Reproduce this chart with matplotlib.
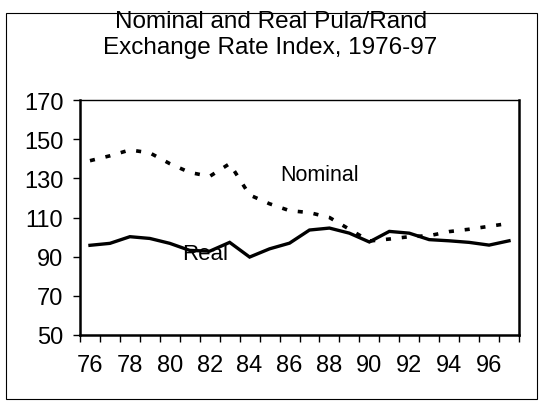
import numpy as np
import matplotlib.pyplot as plt
from matplotlib.patches import Rectangle

plt.rcParams["font.family"] = ["Liberation Sans", "DejaVu Sans"]

# Data
years = list(range(1976, 1998))
nominal = [139.0, 141.5, 144.5, 143.0, 137.5, 133.0, 131.0, 137.5, 121.5, 117.0, 113.5,
           112.5, 110.0, 104.0, 98.0, 99.0, 100.2, 100.7, 102.8, 104.0, 105.5, 107.0]
real = [95.8, 96.8, 100.2, 99.3, 96.8, 93.2, 92.8, 97.3, 89.8, 94.0, 96.9,
        103.6, 104.6, 102.0, 97.5, 102.9, 102.0, 98.7, 98.1, 97.3, 95.9, 98.1]
tick_labels = ["76", "78", "80", "82", "84", "86", "88", "90", "92", "94", "96"]
y_ticks = [50, 70, 90, 110, 130, 150, 170]

W, H = 539, 402
fig = plt.figure(figsize=(W / 100, H / 100), dpi=100)
ax = fig.add_axes([80 / W, 1 - 336 / H, 439 / W, 235 / H])

x = np.arange(len(years))
ax.plot(x, real, color="black", lw=2.4, solid_joinstyle="miter")
ax.plot(x, nominal, color="black", lw=2.6, linestyle=(0, (1.4, 3.0)))

ax.set_xlim(-0.5, len(years) - 0.5)
ax.set_ylim(50, 170)

# category axis: labels in the middle, ticks on the boundaries
ax.set_xticks(x[::2])
ax.set_xticklabels(tick_labels)
ax.set_xticks(np.arange(-0.5, len(years)), minor=True)
ax.tick_params(axis="x", which="major", length=0, pad=14, labelsize=17)
ax.tick_params(axis="x", which="minor", length=5, width=1, direction="out")

ax.set_yticks(y_ticks)
ax.tick_params(axis="y", length=5, width=1, direction="out", pad=7, labelsize=17)

for side in ["left", "bottom", "right"]:
    ax.spines[side].set_linewidth(1.8)
ax.spines["top"].set_linewidth(1.0)

ax.text(11.53, 132.2, "Nominal", fontsize=15.5, ha="center", va="center")
ax.text(5.77, 91.4, "Real", fontsize=16, ha="center", va="center")

fig.text(0.503, 1 - 22 / H, "Nominal and Real Pula/Rand", fontsize=17.5,
         ha="center", va="center")
fig.text(0.501, 1 - 48 / H, "Exchange Rate Index, 1976-97", fontsize=17.5,
         ha="center", va="center")

# outer chart border
fig.patches.append(Rectangle((6 / W, 2 / H), 531 / W, 386 / H, transform=fig.transFigure,
                             fill=False, edgecolor="black", lw=0.8))

fig.savefig("out.png", dpi=100)
